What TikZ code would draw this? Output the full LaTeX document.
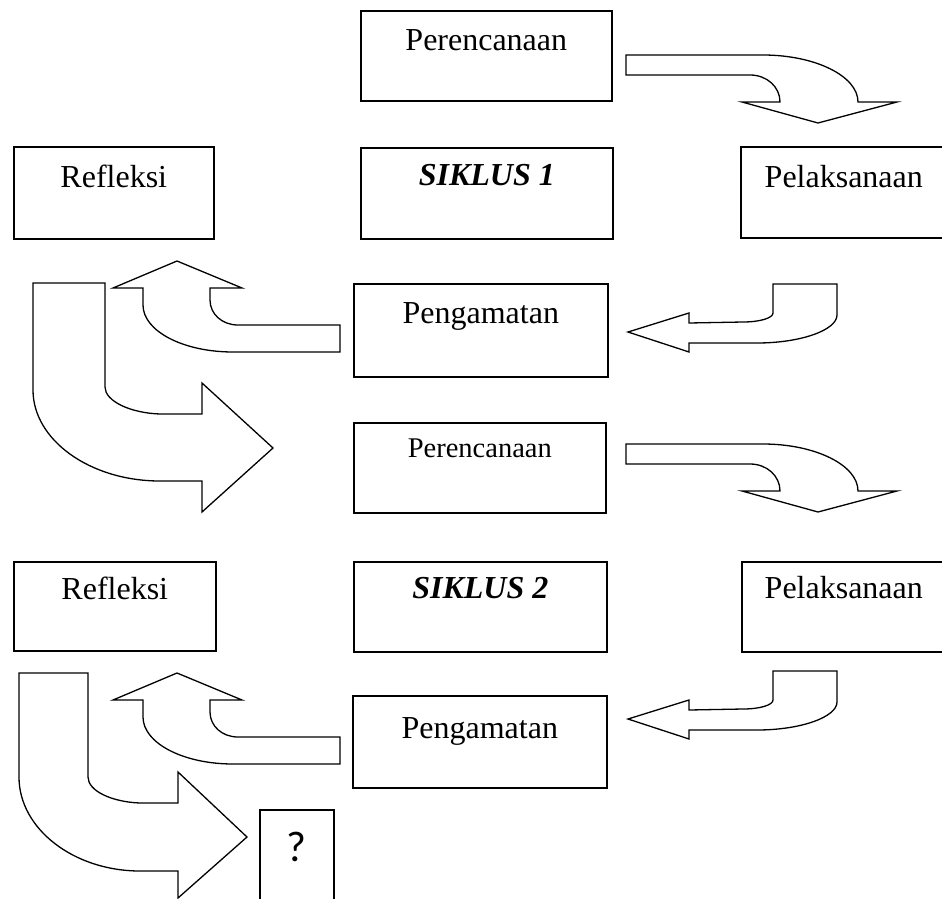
\documentclass[tikz,border=0pt]{standalone}
\usepackage{fontspec}
\setmainfont{Liberation Serif}
\newfontfamily\qfont{Carlito}
\begin{document}
\begin{tikzpicture}[x=1pt,y=-1pt,
    stage/.style n args={3}{draw, line width=1.6pt, inner sep=0pt, anchor=north west,
      minimum width=#1pt, text height=#2pt, text depth=#3pt,
      font=\fontsize{32}{38}\selectfont},
    bent/.style={draw, fill=white, line width=1.3pt}]
  \clip (0,0) rectangle (942,899);
  \node[stage={251}{40}{50}] (per1) at (360,10) {Perencanaan};
  \node[stage={200}{41}{51}] (ref1) at (13,146) {Refleksi};
  \node[stage={252}{38}{53}] (sik1) at (360,147) {\textbf{\textit{SIKLUS 1}}};
  \node[stage={206}{41}{50}] (pel1) at (740,146) {Pelaksanaan};
  \node[stage={254}{40}{53}] (pen1) at (353,283) {Pengamatan};
  \node[stage={252}{35}{55}, font=\fontsize{28.5}{34}\selectfont] (per2) at (353,422) {Perencanaan};
  \node[stage={202}{38}{51}] (ref2) at (13,561) {Refleksi};
  \node[stage={253}{37}{53}] (sik2) at (353,561) {\textbf{\textit{SIKLUS 2}}};
  \node[stage={204}{37}{53}] (pel2) at (741,561) {Pelaksanaan};
  \node[stage={254}{43}{49}] (pen2) at (352,695) {Pengamatan};
  \node[stage={74}{52}{48}, font=\qfont\fontsize{43}{50}\selectfont] (end) at (259,809) {?};
  \draw[bent] (626,55) -- (763,55) .. controls (815,55) and (858,76) .. (858,102)
    -- (897,102) -- (818,123) -- (742,102) -- (780,102)
    .. controls (780,87) and (767,75) .. (750,75) -- (626,75) -- cycle;
  \draw[bent] (773,284) -- (837,284) -- (837,315) .. controls (837,330) and (801,343) .. (757,343)
    -- (689,343) -- (689,352) -- (628,332) -- (689,313) -- (689,323) -- (743,322)
    .. controls (760,322) and (773,318) .. (773,313) -- cycle;
  \draw[bent] (340,325) -- (238,325) .. controls (222,325) and (210,314) .. (210,300)
    -- (210,288) -- (242,288) -- (177,261) -- (113,288) -- (143,288) -- (143,305)
    .. controls (143,331) and (183,352) .. (233,352) -- (340,352) -- cycle;
  \draw[bent] (33,283) -- (105,283) -- (105,387) .. controls (105,401) and (130,413) .. (160,414)
    -- (202,414) -- (202,383) -- (273,448) -- (202,512) -- (202,481) -- (160,481)
    .. controls (90,481) and (33,440) .. (33,390) -- cycle;
  \draw[bent, shift={(0,389)}] (626,55) -- (763,55) .. controls (815,55) and (858,76) .. (858,102)
    -- (897,102) -- (818,123) -- (742,102) -- (780,102)
    .. controls (780,87) and (767,75) .. (750,75) -- (626,75) -- cycle;
  \draw[bent, shift={(0,387)}] (773,284) -- (837,284) -- (837,315) .. controls (837,330) and (801,343) .. (757,343)
    -- (689,343) -- (689,352) -- (628,332) -- (689,313) -- (689,323) -- (743,322)
    .. controls (760,322) and (773,318) .. (773,313) -- cycle;
  \draw[bent, shift={(0,412)}] (340,325) -- (238,325) .. controls (222,325) and (210,314) .. (210,300)
    -- (210,288) -- (242,288) -- (177,261) -- (113,288) -- (143,288) -- (143,305)
    .. controls (143,331) and (183,352) .. (233,352) -- (340,352) -- cycle;
  \draw[bent] (19,673) -- (88,673) -- (88,777) .. controls (88,791) and (112,802) .. (140,803)
    -- (178,803) -- (178,772) -- (247,837) -- (178,898) -- (178,871) -- (140,871)
    .. controls (74,871) and (19,829) .. (19,777) -- cycle;
\end{tikzpicture}
\end{document}
